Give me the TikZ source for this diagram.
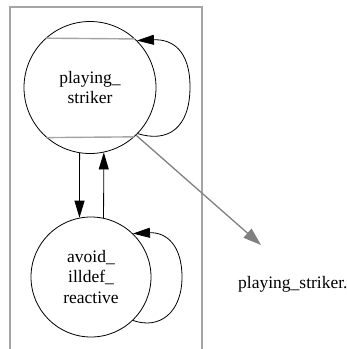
\documentclass[tikz,border=0pt]{standalone}
\usepackage{fontspec}
\setmainfont{Liberation Serif}
\usetikzlibrary{arrows.meta}
\definecolor{framegrey}{RGB}{165,165,165}
\definecolor{arrowgrey}{RGB}{128,128,128}
\begin{document}
\begin{tikzpicture}[x=1pt,y=-1pt,
  state/.style={circle, draw=black, line width=0.8pt, inner sep=0pt, align=center,
    font=\fontsize{17.5}{20.5}\selectfont},
  edge/.style={draw=black, line width=0.8pt, -{Triangle[length=17pt,width=10pt]}},
  greyedge/.style={draw=arrowgrey, line width=1.3pt, -{Triangle[length=18pt,width=12pt]}},
  frame/.style={draw=framegrey, line width=1.6pt},
  mline/.style={draw=framegrey, line width=1.4pt},
  lbl/.style={font=\fontsize{17.5}{20.5}\selectfont, inner sep=0pt}]
\useasboundingbox (0,0) rectangle (347,349);
\draw[frame] (10,349) -- (10,7) -- (202,7) -- (202,349);
\node[state, minimum size=132pt] (ps) at (90,87.5) {playing\_\\striker};
\node[state, minimum size=120pt] (ai) at (91,277) {avoid\_\\illdef\_\\reactive};
\node[lbl, anchor=base west] (out) at (238,288) {playing\_striker.};
\draw[mline] (ps.132.7) -- (ps.47.3);
\draw[mline] (ps.-131.4) -- (ps.-48.6);
\draw[edge] (ps.-44) .. controls (168,143) and (190,128) .. (190,87)
  .. controls (190,50) and (172,39) .. (ps.45);
\draw[edge] (ai.-46) .. controls (160,330) and (182,312) .. (182,277)
  .. controls (182,245) and (166,232) .. (ai.46);
\draw[edge] (ps.-99.6) -- (ai.101.5);
\draw[edge] (ai.78.5) -- (ps.-78.6);
\coordinate (tip) at (261,245);
\draw[greyedge] (ps.-46.5) -- (tip);
\end{tikzpicture}
\end{document}
